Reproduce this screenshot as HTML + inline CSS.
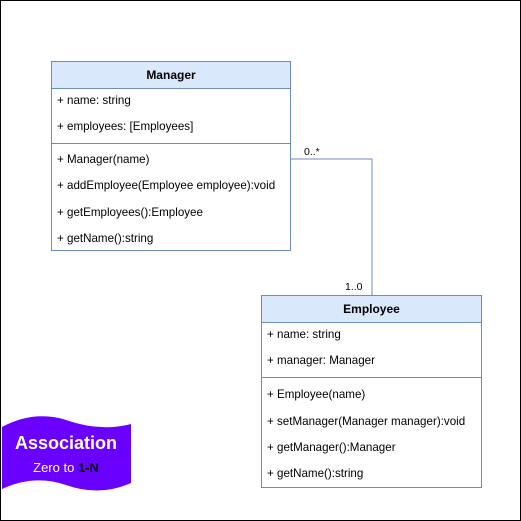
<!DOCTYPE html>
<html><head><style>
html,body{margin:0;padding:0;background:#fff}
body{width:521px;height:521px;position:relative;overflow:hidden;font-family:"Liberation Sans",Arial,sans-serif;}
.frame{position:absolute;left:0;top:0;width:519px;height:519px;border:1px solid #000}
.box{position:absolute;border:1px solid #6c8ebf;background:#fff;box-sizing:border-box}
.hd{background:#dae8fc;border-bottom:1px solid #6c8ebf;height:26px;line-height:26px;text-align:center;font-weight:bold;font-size:12px;color:#000}
.t{position:absolute;left:5px;font-size:11.6px;color:#000;white-space:nowrap}
.div{position:absolute;left:0;right:0;height:1px;background:#6c8ebf}
.lbl{position:absolute;font-size:10.5px;color:#000}
</style></head><body>
<div class="frame"></div>
<div class="box" style="left:51px;top:61px;width:240px;height:190px">
<div class="hd">Manager</div>
<div class="t" style="top:32px">+ name: string</div>
<div class="t" style="top:58px">+ employees: [Employees]</div>
<div class="div" style="top:81px"></div>
<div class="t" style="top:91px">+ Manager(name)</div>
<div class="t" style="top:117px">+ addEmployee(Employee employee):void</div>
<div class="t" style="top:144px">+ getEmployees():Employee</div>
<div class="t" style="top:170px">+ getName():string</div>
</div>
<div class="box" style="left:261px;top:295px;width:221px;height:193px">
<div class="hd">Employee</div>
<div class="t" style="top:32px">+ name: string</div>
<div class="t" style="top:58px">+ manager: Manager</div>
<div class="div" style="top:81px"></div>
<div class="t" style="top:92px">+ Employee(name)</div>
<div class="t" style="top:119px">+ setManager(Manager manager):void</div>
<div class="t" style="top:145px">+ getManager():Manager</div>
<div class="t" style="top:171px">+ getName():string</div>
</div>
<svg style="position:absolute;left:0;top:0" width="521" height="521">
<polyline points="291,159 372,159 372,295" fill="none" stroke="#6c8ebf" stroke-width="1"/>
<path d="M2,427 Q34,410 66,420 Q100,432 131,424 L131,483 Q100,497 66,485 Q34,474 2,489 Z" fill="#6a00ff"/>
<text x="66" y="449" text-anchor="middle" font-family="Liberation Sans,Arial,sans-serif" font-size="18" font-weight="bold" fill="#fff">Association</text>
<text x="66" y="472" text-anchor="middle" font-family="Liberation Sans,Arial,sans-serif" font-size="13" fill="#fff">Zero to <tspan font-weight="bold" fill="#000">1-N</tspan></text>
</svg>
<div class="lbl" style="left:304px;top:146px">0..*</div>
<div class="lbl" style="left:345px;top:281px">1..0</div>
</body></html>
